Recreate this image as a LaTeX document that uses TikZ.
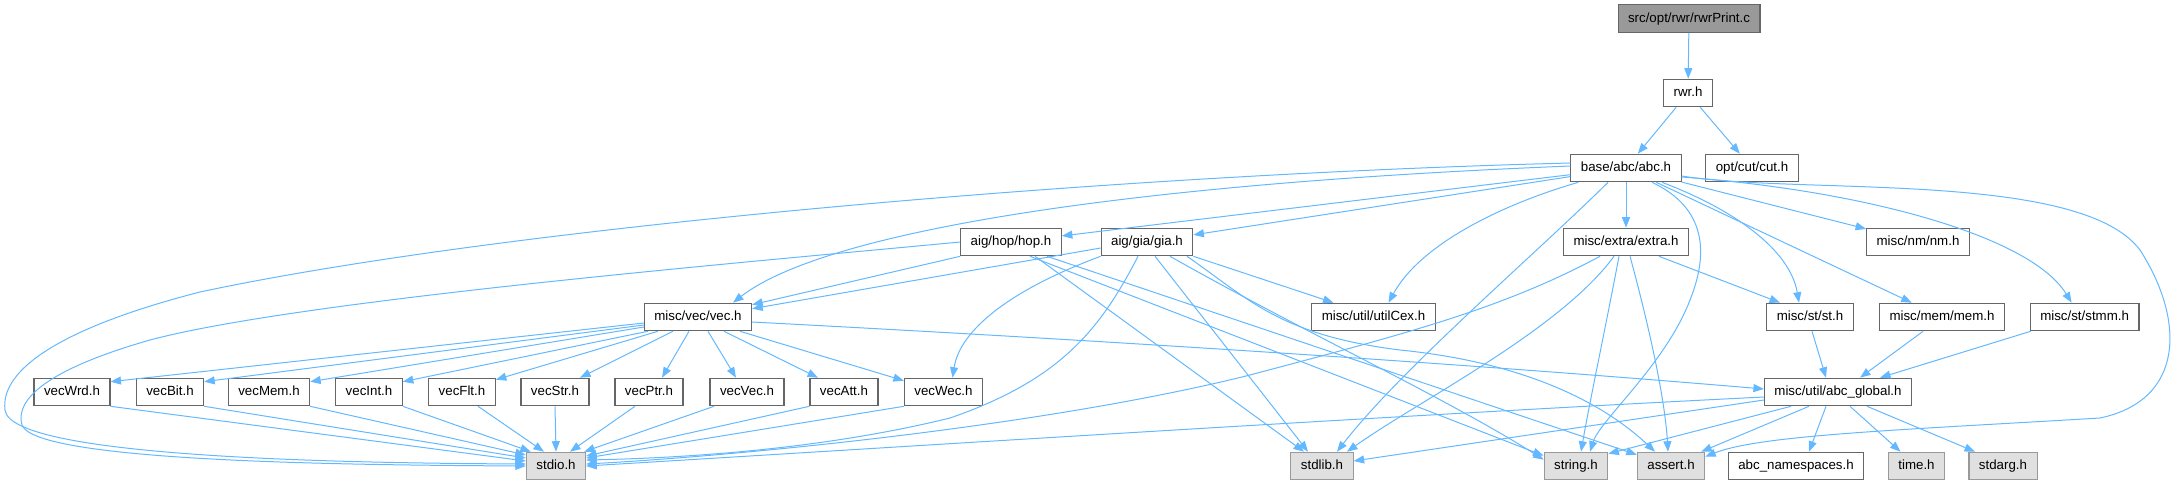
\documentclass[tikz,border=0pt]{standalone}
\usepackage{fontspec}
\setmainfont{Liberation Sans}
\usetikzlibrary{arrows.meta}
\definecolor{edgec}{HTML}{63B8FF}
\definecolor{nodeb}{HTML}{666666}
\definecolor{sysb}{HTML}{999999}
\definecolor{sysf}{HTML}{E0E0E0}
\definecolor{rootf}{HTML}{999999}
\tikzset{
  box/.style={draw=nodeb, fill=white, line width=1.1pt, font=\fontsize{13.3}{16}\selectfont,
    inner xsep=10pt, inner ysep=0pt, minimum height=27.5pt, text height=9.7pt, text depth=2.7pt},
  sysbox/.style={box, draw=sysb, fill=sysf},
  rootbox/.style={box, fill=rootf},
  edge/.style={draw=edgec, line width=1pt, -{Triangle[length=10.5pt,width=8pt]}}
}
\begin{document}
\begin{tikzpicture}[x=1pt,y=-1pt]
\useasboundingbox (0,0) rectangle (2179,485);
% nodes
\node[rootbox] (root) at (1689,18.5) {src/opt/rwr/rwrPrint.c};
\node[box] (rwr) at (1688,93) {rwr.h};
\node[box] (abc) at (1626,168) {base/abc/abc.h};
\node[box] (cut) at (1752,168) {opt/cut/cut.h};
\node[box] (hop) at (1011,242) {aig/hop/hop.h};
\node[box] (gia) at (1147,242) {aig/gia/gia.h};
\node[box] (extra) at (1626,242) {misc/extra/extra.h};
\node[box] (nm) at (1918,242) {misc/nm/nm.h};
\node[box] (vec) at (698,317) {misc/vec/vec.h};
\node[box] (utilCex) at (1373.5,317) {misc/util/utilCex.h};
\node[box] (st) at (1810,317) {misc/st/st.h};
\node[box] (mem) at (1942,317) {misc/mem/mem.h};
\node[box] (stmm) at (2084.6,317) {misc/st/stmm.h};
\node[box] (vecWrd) at (72,392) {vecWrd.h};
\node[box] (vecBit) at (170,392) {vecBit.h};
\node[box] (vecMem) at (269,392) {vecMem.h};
\node[box] (vecInt) at (369,392) {vecInt.h};
\node[box] (vecFlt) at (462,392) {vecFlt.h};
\node[box] (vecStr) at (555,392) {vecStr.h};
\node[box] (vecPtr) at (649,392) {vecPtr.h};
\node[box] (vecVec) at (747,392) {vecVec.h};
\node[box] (vecAtt) at (844,392) {vecAtt.h};
\node[box] (vecWec) at (943.5,392) {vecWec.h};
\node[box] (glob) at (1838,392) {misc/util/abc\_global.h};
\node[sysbox] (stdio) at (556,466) {stdio.h};
\node[sysbox] (stdlib) at (1322,466) {stdlib.h};
\node[sysbox] (string) at (1576,466) {string.h};
\node[sysbox] (assert) at (1671,466) {assert.h};
\node[box] (ns) at (1796,466) {abc\_namespaces.h};
\node[sysbox] (time) at (1916.5,466) {time.h};
\node[sysbox] (stdarg) at (2003,466) {stdarg.h};
% top edges
\draw[edge] (root) -- (rwr);
\draw[edge] (rwr) -- (abc);
\draw[edge] (rwr) -- (cut);
% abc edges
\draw[edge] (abc) -- (extra);
\draw[edge] (abc) -- (hop);
\draw[edge] (abc) -- (gia);
\draw[edge] (abc) -- (nm);
\draw[edge] (abc) -- (mem);
\draw[edge] ([yshift=-9pt]abc.east) .. controls (1860,190) and (2030,235) .. ([xshift=-13pt]stmm.north);
\draw[edge] ([yshift=-8pt]abc.east) .. controls (1800,195) and (2080,170) .. (2140,250) .. controls (2185,320) and (2185,400) .. (2100,418) .. controls (1900,430) and (1760,435) .. ([yshift=-5pt]assert.north east);
\draw[edge] ([xshift=26pt]abc.south) .. controls (1700,205) and (1712,245) .. (1690,300) .. controls (1665,365) and (1600,420) .. ([xshift=14pt]string.north);
\draw[edge] ([xshift=36pt]abc.south) .. controls (1735,210) and (1790,250) .. ([xshift=-11pt]st.north);
\draw[edge] ([xshift=8pt]abc.south west) .. controls (1500,205) and (1420,245) .. ([xshift=15pt]utilCex.north);
\draw[edge] ([xshift=-18pt]abc.south) .. controls (1540,250) and (1400,370) .. ([xshift=15pt]stdlib.north);
\draw[edge] ([yshift=2pt]abc.west) .. controls (1100,185) and (820,235) .. ([xshift=35pt]vec.north);
\draw[edge] ([yshift=5pt]abc.west) .. controls (1100,175) and (500,228) .. (200,292) .. controls (60,328) and (0,370) .. (5,410) .. controls (10,458) and (350,463) .. ([yshift=2pt]stdio.west);
% hop edges
\draw[edge] (hop.south west) -- ([yshift=-2pt]vec.north east);
\draw[edge] (hop.west) .. controls (750,262) and (300,300) .. (150,340) .. controls (45,370) and (15,400) .. (22,425) .. controls (35,462) and (350,465) .. (stdio.west);
\draw[edge] ([xshift=24pt]hop.south) -- ([xshift=-18pt]stdlib.north);
\draw[edge] ([xshift=19pt]hop.south) -- ([yshift=-4pt]string.north west);
\draw[edge] ([xshift=36pt]hop.south) -- ([yshift=-3pt]assert.north west);
% gia edges
\draw[edge] ([yshift=-6pt]gia.west) -- ([yshift=-6pt]vec.north east);
\draw[edge] (gia.south west) .. controls (1010,290) and (960,330) .. ([xshift=9pt]vecWec.north);
\draw[edge] (gia.south east) -- ([xshift=-40pt]utilCex.north);
\draw[edge] ([xshift=-9pt]gia.south) .. controls (1100,330) and (1060,380) .. (950,418) .. controls (820,450) and (680,458) .. ([yshift=6pt]stdio.east);
\draw[edge] ([xshift=8pt]gia.south) -- ([xshift=-14pt]stdlib.north);
\draw[edge] ([xshift=23pt]gia.south) .. controls (1300,330) and (1450,400) .. ([yshift=-8pt]string.north west);
\draw[edge] ([xshift=40pt]gia.south) .. controls (1250,300) and (1280,335) .. (1400,350) .. controls (1520,362) and (1600,400) .. ([xshift=-16pt]assert.north);
% extra edges
\draw[edge] ([xshift=-26pt]extra.south) .. controls (1500,310) and (1400,335) .. (1250,375) .. controls (1050,425) and (750,455) .. ([yshift=2pt]stdio.east);
\draw[edge] ([xshift=-12pt]extra.south) .. controls (1560,330) and (1420,400) .. ([xshift=25pt]stdlib.north);
\draw[edge] ([xshift=-7pt]extra.south) .. controls (1605,330) and (1590,400) .. ([xshift=5pt]string.north);
\draw[edge] ([xshift=4pt]extra.south) .. controls (1650,330) and (1665,400) .. ([xshift=-3pt]assert.north);
\draw[edge] ([xshift=33pt]extra.south) -- ([xshift=-30pt]st.north);
% vec edges
\draw[edge] ([yshift=-5pt]vec.east) .. controls (1000,335) and (1400,358) .. ([yshift=3pt]glob.west);
\draw[edge] ([yshift=-6pt]vec.west) -- ([yshift=-4pt]vecWrd.north east);
\draw[edge] ([yshift=-8pt]vec.west) -- ([yshift=-4pt]vecBit.north east);
\draw[edge] ([yshift=-10pt]vec.west) -- ([yshift=-4pt]vecMem.north east);
\draw[edge] ([xshift=4pt]vec.south west) -- ([yshift=-4pt]vecInt.north east);
\draw[edge] ([xshift=14pt]vec.south west) -- ([yshift=-2pt]vecFlt.north east);
\draw[edge] ([xshift=-25pt]vec.south) -- ([xshift=25pt]vecStr.north);
\draw[edge] ([xshift=-9pt]vec.south) -- ([xshift=13pt]vecPtr.north);
\draw[edge] ([xshift=10pt]vec.south) -- ([xshift=-11pt]vecVec.north);
\draw[edge] ([xshift=26pt]vec.south) -- ([xshift=-26pt]vecAtt.north);
\draw[edge] ([xshift=42pt]vec.south) -- ([yshift=-3pt]vecWec.north west);
% vecX -> stdio
\draw[edge] (vecWrd.south east) -- ([yshift=5pt]stdio.west);
\draw[edge] (vecBit.south east) -- ([yshift=8pt]stdio.west);
\draw[edge] (vecMem.south east) -- ([yshift=11pt]stdio.west);
\draw[edge] (vecInt.south east) -- ([xshift=5pt]stdio.north west);
\draw[edge] ([xshift=16pt]vecFlt.south) -- ([xshift=-12pt]stdio.north);
\draw[edge] (vecStr.south) -- (stdio.north);
\draw[edge] ([xshift=-14pt]vecPtr.south) -- ([xshift=14pt]stdio.north);
\draw[edge] ([xshift=-33pt]vecVec.south) -- ([xshift=-2pt]stdio.north east);
\draw[edge] (vecAtt.south west) -- ([yshift=10pt]stdio.east);
\draw[edge] (vecWec.south west) -- ([yshift=8pt]stdio.east);
% st, mem, stmm -> global
\draw[edge] ([xshift=2pt]st.south) -- ([xshift=-12pt]glob.north);
\draw[edge] ([xshift=-19pt]mem.south) -- ([xshift=22pt]glob.north);
\draw[edge] ([xshift=-54pt]stmm.south) -- ([xshift=42pt]glob.north);
% global edges
\draw[edge] ([yshift=-5pt]glob.west) .. controls (1400,415) and (900,447) .. (stdio.east);
\draw[edge] ([yshift=-8pt]glob.west) -- ([yshift=5pt]stdlib.east);
\draw[edge] ([xshift=-47pt]glob.south) -- ([yshift=-2pt]string.north east);
\draw[edge] ([xshift=-29pt]glob.south) -- ([xshift=-4pt]assert.north east);
\draw[edge] ([xshift=-12pt]glob.south) -- ([xshift=13pt]ns.north);
\draw[edge] ([xshift=12pt]glob.south) -- ([xshift=-16pt]time.north);
\draw[edge] ([xshift=29pt]glob.south) -- ([xshift=-28pt]stdarg.north);
\end{tikzpicture}
\end{document}
